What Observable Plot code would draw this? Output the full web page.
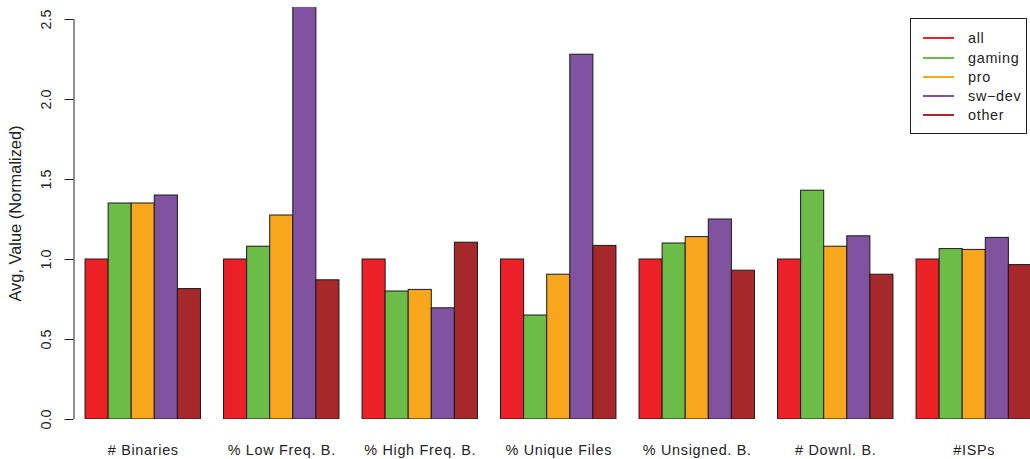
<!DOCTYPE html>
<html>
<head>
<meta charset="utf-8">
<script src="https://cdn.jsdelivr.net/npm/d3@7"></script>
<script src="https://cdn.jsdelivr.net/npm/@observablehq/plot@0.6"></script>
<style>
  html, body { margin: 0; padding: 0; background: #fff; }
  #wrap { position: relative; width: 1030px; height: 459px; font-family: "Liberation Sans", Arial, Helvetica, sans-serif; color: #222; }
  #wrap svg { display: block; }
  [aria-label="fx-axis tick label"] text { letter-spacing: 0.7px; }
  .legend { position: absolute; left: 910px; top: 18px; width: 115px; height: 114px; border: 1px solid #222; background: #fff; }
  .legend .row { position: absolute; left: 0; height: 20px; width: 115px; }
  .legend .swatch { position: absolute; left: 12px; top: 9px; width: 31px; height: 2px; }
  .legend .name { position: absolute; left: 57px; top: 0; line-height: 20px; font-size: 14.4px; letter-spacing: 0.7px; white-space: nowrap; }
</style>
</head>
<body>
<div id="wrap"></div>
<script>
// Feature categories along the x axis
const categories = ["# Binaries", "% Low Freq. B.", "% High Freq. B.", "% Unique Files", "% Unsigned. B.", "# Downl. B.", "#ISPs"];

// User groups and their colours
const groups = ["all", "gaming", "pro", "sw\u2212dev", "other"];
const colors = ["#EC2027", "#6CBD48", "#F8A61B", "#8052A0", "#A6282B"];

// Average values normalised to the "all" group, one array per group
const allValues    = [1.00, 1.00, 1.00, 1.00, 1.00, 1.00, 1.00];
const gamingValues = [1.35, 1.08, 0.80, 0.65, 1.10, 1.43, 1.065];
const proValues    = [1.35, 1.275, 0.81, 0.905, 1.14, 1.08, 1.06];
const swdevValues  = [1.40, 2.60, 0.695, 2.28, 1.25, 1.145, 1.135];
const otherValues  = [0.815, 0.87, 1.105, 1.085, 0.93, 0.905, 0.965];

// Y axis domain, ticks and title
const yDomain = [0, 2.575];
const yTicks = [0, 0.5, 1.0, 1.5, 2.0, 2.5];
const yTitle = "Avg, Value (Normalized)";

const series = [allValues, gamingValues, proValues, swdevValues, otherValues];
const rows = categories.flatMap((category, i) =>
  groups.map((group, j) => ({category, group, value: series[j][i]}))
);

const fxStart = 73.5;
const groupStep = 138.5;

const chart = Plot.plot({
  width: 1030,
  height: 459,
  marginTop: 7,
  marginBottom: 40,
  marginLeft: fxStart,
  marginRight: 0,
  style: {fontFamily: "'Liberation Sans', Arial, Helvetica, sans-serif", background: "#fff", color: "#222"},
  fx: {domain: categories, range: [fxStart, fxStart + groupStep * categories.length], padding: 0, round: false, label: null},
  x: {domain: groups, paddingInner: 0, paddingOuter: 0.5, round: false, axis: null},
  y: {domain: yDomain, label: null},
  color: {domain: groups, range: colors},
  marks: [
    Plot.barY(rows, {fx: "category", x: "group", y: "value", fill: "group", stroke: "#1a1a1a", strokeWidth: 1, clip: true}),
    // y axis line, drawn once beside the first group
    Plot.ruleX([categories[0]], {fx: d => d, x: null, y1: yTicks[0], y2: yTicks[yTicks.length - 1], dx: -groupStep / 2, stroke: "#222"}),
    Plot.axisY({ticks: yTicks, tickFormat: d3.format(".1f"), tickSize: 9, tickPadding: 14, tickRotate: -90, fontSize: 14.4, label: null, stroke: "#222"}),
    Plot.text([yTitle], {fx: () => categories[0], text: d => d, frameAnchor: "left", textAnchor: "middle", rotate: -90, dx: -58, fontSize: 16.4, fill: "#222"}),
    Plot.axisFx({anchor: "bottom", tickSize: 0, tickPadding: 25, fontSize: 14.4, label: null})
  ]
});

const wrap = document.getElementById("wrap");
wrap.appendChild(chart);

// Legend box in the top-right corner
const legend = document.createElement("div");
legend.className = "legend";
groups.forEach((group, i) => {
  const row = document.createElement("div");
  row.className = "row";
  row.style.top = (9.3 + i * 19.2) + "px";
  const swatch = document.createElement("div");
  swatch.className = "swatch";
  swatch.style.background = colors[i];
  const name = document.createElement("div");
  name.className = "name";
  name.textContent = group;
  row.appendChild(swatch);
  row.appendChild(name);
  legend.appendChild(row);
});
wrap.appendChild(legend);
</script>
</body>
</html>
